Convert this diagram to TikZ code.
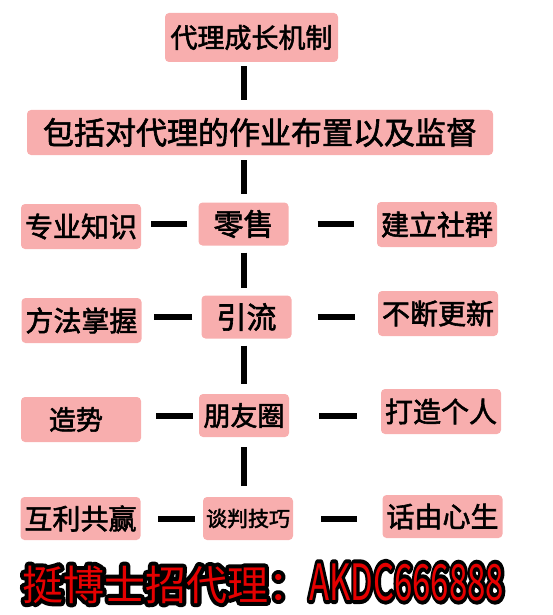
\documentclass[tikz,border=0pt]{standalone}
\usepackage{fontspec}
\setmainfont{Noto Sans CJK SC}
\newfontfamily\boxfont{Noto Sans CJK SC}[FakeBold=2]
\newfontfamily\adfont{Noto Sans CJK SC}
\definecolor{boxpink}{HTML}{F8AEAE}
\definecolor{adred}{HTML}{E60000}
\newcommand{\fsz}[1]{\fontsize{#1}{#1}\selectfont}
% outlined text: black stroke under a red fill
\newcommand{\outlined}[1]{\special{pdf:literal direct 1 Tr 8 w 1 j 0 0 0 RG}\rlap{#1}\special{pdf:literal direct 0 Tr}#1}
\tikzset{
  box/.style={fill=boxpink, rounded corners=4pt, inner sep=0pt, text=black},
  sidebox/.style={box, minimum width=120pt, minimum height=45pt, font=\boxfont\fsz{28}},
  midbox/.style={box, minimum width=90pt, minimum height=43pt},
  link/.style={line width=6pt, black}
}
\begin{document}
\begin{tikzpicture}[x=1pt,y=-1pt]
\useasboundingbox (0,0) rectangle (553,615);
% top of the tree
\node[box, minimum width=173pt, minimum height=49pt, font=\boxfont\fsz{27}] (top) at (251.5,37.5) {代理成长机制};
\node[box, minimum width=466pt, minimum height=45pt, font=\boxfont\fsz{31}] (sub) at (260,132.5) {包括对代理的作业布置以及监督};
% middle column
\node[midbox, font=\boxfont\fsz{30}] (ls) at (243.5,224) {零售};
\node[midbox, font=\boxfont\fsz{30}] (yl) at (246.5,317) {引流};
\node[midbox, font=\boxfont\fsz{27}] (pyq) at (244,415.5) {朋友圈};
\node[midbox, font=\boxfont\fsz{21}] (tp) at (248,518.5) {谈判技巧};
% left column
\node[sidebox] (zs) at (81,226.5) {专业知识};
\node[sidebox] (ff) at (81.5,320.5) {方法掌握};
\node[sidebox, font=\boxfont\fsz{27}] (zsh) at (81,419.5) {\hspace*{-10pt}造势};
\node[sidebox, minimum height=43pt] (hl) at (80.5,518.5) {互利共赢};
% right column
\node[sidebox] (jl) at (437,224.5) {建立社群};
\node[sidebox] (bd) at (438,313.5) {不断更新};
\node[sidebox] (dz) at (441,411.5) {打造个人};
\node[sidebox, minimum height=43pt] (hy) at (442.5,516.5) {话由心生};
% vertical links
\draw[link, shorten <=4pt, shorten >=10pt] (ls |- top.south) -- (ls |- sub.north);
\draw[link, shorten <=5pt, shorten >=8pt] (ls |- sub.south) -- (ls.north);
\draw[link, shorten <=7pt, shorten >=7pt] (ls.south) -- (ls |- yl.north);
\draw[link, shorten <=7pt, shorten >=10pt] (ls |- yl.south) -- (ls |- pyq.north);
\draw[link, shorten <=10pt, shorten >=11pt] (ls |- pyq.south) -- (ls |- tp.north);
% side links
\draw[link, shorten <=11pt, shorten >=10pt] (ls.west) -- (ls.west -| zs.east);
\draw[link, shorten <=29pt, shorten >=23pt] (ls.east) -- (ls.east -| jl.west);
\draw[link, shorten <=9pt, shorten >=12pt] (yl.west) -- (yl.west -| ff.east);
\draw[link, shorten <=26pt, shorten >=23pt] (yl.east) -- (yl.east -| bd.west);
\draw[link, shorten <=6pt, shorten >=15pt] (pyq.west) -- (pyq.west -| zsh.east);
\draw[link, shorten <=30pt, shorten >=24pt] (pyq.east) -- (pyq.east -| dz.west);
\draw[link, shorten <=8pt, shorten >=17pt] (tp.west) -- (tp.west -| hl.east);
\draw[link, shorten <=28pt, shorten >=25pt] (tp.east) -- (tp.east -| hy.west);
% banner
\node[anchor=base west, inner sep=0pt, text=adred, font=\adfont] (ad) at (22,600) {\outlined{\fsz{41}挺博士招代理：\scalebox{0.66}[1]{\fsz{50}AKDC666888}}};
\end{tikzpicture}
\end{document}
